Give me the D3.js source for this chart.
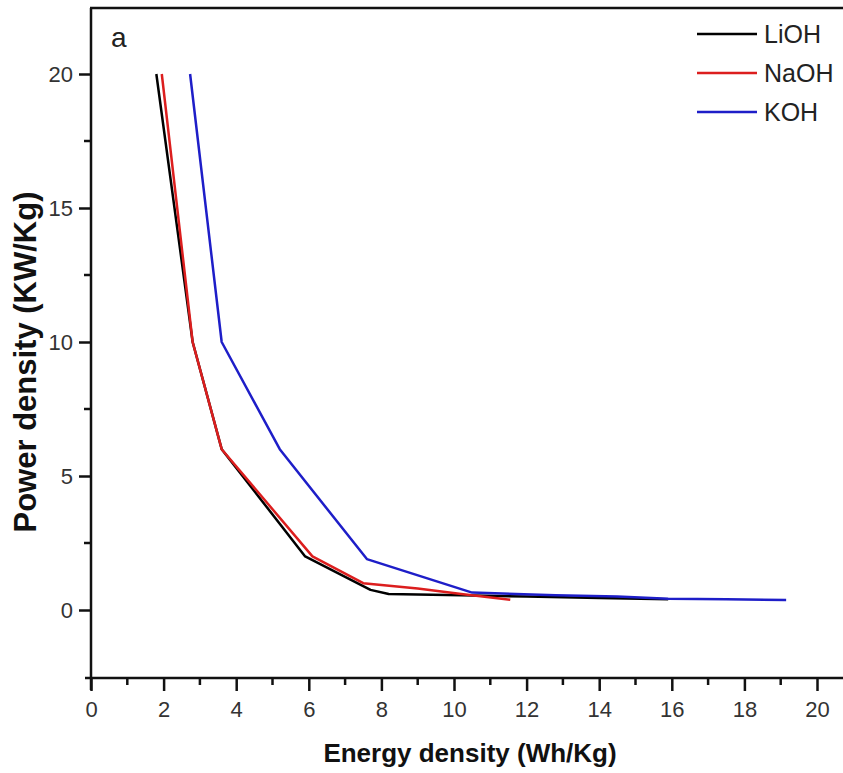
<!DOCTYPE html>
<html>
<head>
<meta charset="utf-8">
<script src="https://cdn.jsdelivr.net/npm/d3@7"></script>
<style>
  body { margin: 0; background: #fff; }
  svg { display: block; font-family: "Liberation Sans", Arial, sans-serif; }
</style>
</head>
<body>
<div id="vis"></div>
<script>
// frame size
const FRAME_WIDTH = 843;
const FRAME_HEIGHT = 773;

// plot box (right side runs off the picture)
const LEFT = 91, RIGHT = 817, TOP = 8, BOTTOM = 678;

// data: energy density (Wh/Kg) vs power density (KW/Kg)
const series = ["LiOH", "NaOH", "KOH"];
const colors = ["#000000", "#dc1e1e", "#1e1ec8"];

const lioh_x = [1.8, 2.8, 3.6, 5.9, 7.7, 8.2, 10.2, 12.0, 14.0, 15.9];
const lioh_y = [20, 10, 6, 2.0, 0.75, 0.6, 0.55, 0.5, 0.45, 0.4];

const naoh_x = [1.95, 2.8, 3.6, 6.1, 7.5, 9.0, 10.2, 11.55];
const naoh_y = [20, 10, 6, 2.0, 1.0, 0.8, 0.6, 0.38];

const koh_x = [2.73, 3.6, 5.2, 7.6, 10.5, 12.8, 14.5, 15.9, 17.5, 19.15];
const koh_y = [20, 10, 6, 1.9, 0.65, 0.55, 0.5, 0.42, 0.4, 0.37];

const xTicks = [0, 2, 4, 6, 8, 10, 12, 14, 16, 18, 20];
const xMinor = [1, 3, 5, 7, 9, 11, 13, 15, 17, 19];
const yTicks = [0, 5, 10, 15, 20];
const yMinor = [2.5, 7.5, 12.5, 17.5];

const allX = [lioh_x, naoh_x, koh_x];
const allY = [lioh_y, naoh_y, koh_y];

const svg = d3.select("#vis")
  .append("svg")
    .attr("width", FRAME_WIDTH)
    .attr("height", FRAME_HEIGHT);

// scales
const X_SCALE = d3.scaleLinear().domain([0, 20]).range([LEFT, RIGHT]);
const Y_SCALE = d3.scaleLinear().domain([0, 20]).range([610, 74]);

// lines
const line = d3.line()
  .x(d => X_SCALE(d[0]))
  .y(d => Y_SCALE(d[1]));

series.forEach((name, i) => {
  const pts = allX[i].map((x, j) => [x, allY[i][j]]);
  svg.append("path")
    .datum(pts)
    .attr("d", line)
    .attr("fill", "none")
    .attr("stroke", colors[i])
    .attr("stroke-width", 2.5)
    .attr("stroke-linejoin", "round");
});

// top border, runs to the right edge
svg.append("line")
  .attr("x1", LEFT - 1).attr("x2", FRAME_WIDTH)
  .attr("y1", TOP).attr("y2", TOP)
  .attr("stroke", "#111").attr("stroke-width", 2.5);

// x axis
const xAxis = svg.append("g")
  .attr("transform", "translate(0," + BOTTOM + ")")
  .call(d3.axisBottom(X_SCALE).tickValues(xTicks).tickSize(13).tickPadding(10));
xAxis.select(".domain").remove();
xAxis.append("line")
  .attr("x1", LEFT - 6).attr("x2", FRAME_WIDTH)
  .attr("stroke", "#111").attr("stroke-width", 2.5);
xAxis.selectAll("text").attr("font-size", 22).attr("fill", "#333");
xAxis.selectAll(".tick line").attr("stroke", "#111").attr("stroke-width", 2.5);
xAxis.selectAll(".minor")
  .data(xMinor)
  .enter()
  .append("line")
    .attr("x1", d => X_SCALE(d)).attr("x2", d => X_SCALE(d))
    .attr("y1", 0).attr("y2", 7)
    .attr("stroke", "#111").attr("stroke-width", 2.5);

// y axis
const yAxis = svg.append("g")
  .attr("transform", "translate(" + LEFT + ",0)")
  .call(d3.axisLeft(Y_SCALE).tickValues(yTicks).tickSize(12).tickPadding(6));
yAxis.select(".domain").remove();
yAxis.append("line")
  .attr("y1", TOP).attr("y2", BOTTOM + 12)
  .attr("stroke", "#111").attr("stroke-width", 2.5);
yAxis.selectAll("text").attr("font-size", 22).attr("fill", "#333");
yAxis.selectAll(".tick line").attr("stroke", "#111").attr("stroke-width", 2.5);
yAxis.selectAll(".minor")
  .data(yMinor)
  .enter()
  .append("line")
    .attr("x1", -7).attr("x2", 0)
    .attr("y1", d => Y_SCALE(d)).attr("y2", d => Y_SCALE(d))
    .attr("stroke", "#111").attr("stroke-width", 2.5);

// axis titles
svg.append("text")
  .attr("x", 470).attr("y", 762)
  .attr("text-anchor", "middle")
  .attr("font-size", 26).attr("font-weight", "bold")
  .attr("fill", "#111")
  .text("Energy density (Wh/Kg)");

svg.append("text")
  .attr("transform", "translate(36,362) rotate(-90)")
  .attr("text-anchor", "middle")
  .attr("font-size", 31).attr("font-weight", "bold")
  .attr("fill", "#111")
  .text("Power density (KW/Kg)");

// panel label
svg.append("text")
  .attr("x", 111).attr("y", 47)
  .attr("font-size", 28).attr("fill", "#222")
  .text("a");

// legend
const legend = svg.append("g");
series.forEach((name, i) => {
  const y = 34 + i * 39;
  legend.append("line")
    .attr("x1", 697).attr("x2", 757)
    .attr("y1", y).attr("y2", y)
    .attr("stroke", colors[i]).attr("stroke-width", 2.5);
  legend.append("text")
    .attr("x", 764).attr("y", y + 9)
    .attr("font-size", 25).attr("fill", "#222")
    .text(name);
});
</script>
</body>
</html>
